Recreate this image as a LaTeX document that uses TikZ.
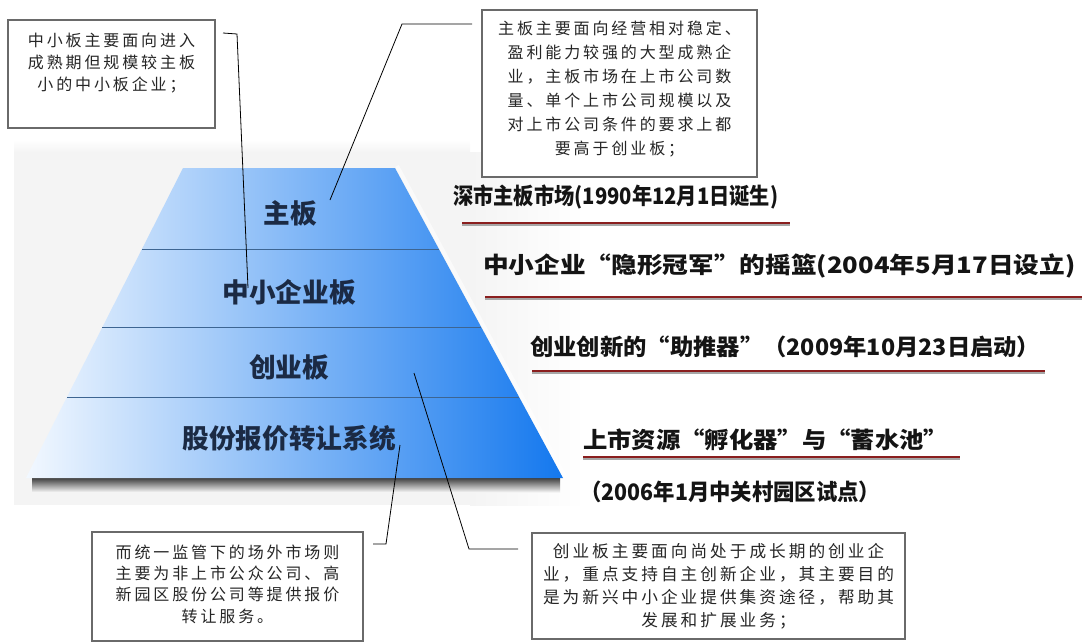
\documentclass[tikz,border=0pt]{standalone}
\usepackage{fontspec}
\usepackage{graphicx}
\setmainfont{Noto Sans CJK SC}
\newfontfamily\boxfont[LetterSpace=18]{Noto Sans CJK SC}
\newcommand\pxu{0.75pt}
\definecolor{bggray}{HTML}{F4F4F4}
\definecolor{pyrlight}{HTML}{F2F8FF}
\definecolor{pyrblue}{HTML}{1478EE}
\definecolor{bandline}{HTML}{3D6592}
\definecolor{navy}{HTML}{1B2A44}
\definecolor{ulred}{HTML}{8A1E1E}
\definecolor{boxedge}{HTML}{6A6A6A}
\tikzset{
  notebox/.style={draw=boxedge, line width=0.8pt, fill=white, inner sep=0pt},
  notetext/.style={font=\boxfont\fontsize{12pt}{17.25pt}\selectfont, align=center, inner sep=0pt, text=black!85},
  tier/.style={font=\bfseries\fontsize{20pt}{24pt}\selectfont, text=navy, inner sep=0pt},
  milestone/.style={font=\bfseries\fontsize{17pt}{20pt}\selectfont, text=black!92, inner sep=0pt, anchor=west},
  leader/.style={draw=black, line width=0.6pt},
  underl/.style={draw=ulred, line width=1.6pt},
  ulshadow/.style={draw=black!35, line width=1.2pt}
}
\begin{document}
\begin{tikzpicture}[x=0.75pt,y=-0.75pt]
\useasboundingbox (0,0) rectangle (1082,643);
% background
\fill[bggray] (14,152) rectangle (470,505);
\shade[left color=bggray, right color=white] (470,152) rectangle (585,505);
\shade[top color=white, bottom color=bggray] (14,140) rectangle (470,152);
% pyramid shadow
\fill[top color=black!80, bottom color=bggray] (32,477) rectangle (560,492);
% pyramid body
\shade[left color=pyrlight, right color=pyrblue] (183,168) -- (395,168) -- (563,478) -- (26,478) -- cycle;
\draw[white, line width=3pt, opacity=0.6] (397,166) -- (566,478);
% band lines
\draw[bandline, line width=0.7pt] (142,249) -- (439,249);
\draw[bandline, line width=0.7pt] (102,327) -- (481,327);
\draw[bandline, line width=0.7pt] (67,397) -- (519,397);
% tier labels
\node[tier] (t1) at (290,213) {主板};
\node[tier] (t2) at (289,292) {中小企业板};
\node[tier] (t3) at (289,367) {创业板};
\node[tier] (t4) at (289,438) {股份报价转让系统};
% milestones
\node[milestone] (m1) at (453,197) {\resizebox{243.75pt}{\height}{深市主板市场(1990年12月1日诞生)}};
\node[milestone] (m2) at (483,266) {\resizebox{444pt}{\height}{中小企业“隐形冠军”的摇篮(2004年5月17日设立)}};
\node[milestone] (m3) at (530,347) {\resizebox{382.5pt}{\height}{创业创新的“助推器”（2009年10月23日启动）}};
\node[milestone] (m4) at (583,440) {\resizebox{273.75pt}{\height}{上市资源“孵化器”与“蓄水池”}};
\node[milestone] (m5) at (580,492) {\resizebox{225pt}{\height}{（2006年1月中关村园区试点）}};
% underlines
\coordinate (u1a) at (462,223); \coordinate (u1b) at (790,223);
\coordinate (u2a) at (485,297); \coordinate (u2b) at (1082,297);
\coordinate (u3a) at (532,371); \coordinate (u3b) at (1045,371);
\coordinate (u4a) at (583,457); \coordinate (u4b) at (960,457);
\foreach \a/\b in {u1a/u1b,u2a/u2b,u3a/u3b,u4a/u4b}{
  \draw[ulshadow] ([yshift=-1.6pt]\a) -- ([yshift=-1.6pt]\b);
  \draw[underl] (\a) -- (\b);
}
% note boxes
\node[notebox, minimum width=207*\pxu, minimum height=108*\pxu] (b1) at (111.5,74) {};
\node[notetext, font=\boxfont\fontsize{12pt}{16.5pt}\selectfont] (b1t) at (111.5,63) {中小板主要面向进入\\成熟期但规模较主板\\小的中小板企业；};
\node[notebox, minimum width=275*\pxu, minimum height=167*\pxu] (b2) at (619.5,93.5) {};
\node[notetext, font=\boxfont\fontsize{12pt}{18pt}\selectfont] (b2t) at (619.5,89) {主板主要面向经营相对稳定、\\盈利能力较强的大型成熟企\\业，主板市场在上市公司数\\量、单个上市公司规模以及\\对上市公司条件的要求上都\\要高于创业板；};
\node[notebox, minimum width=271*\pxu, minimum height=109*\pxu] (b3) at (227.5,586.5) {};
\node[notetext, font=\boxfont\fontsize{12pt}{16pt}\selectfont] (b3t) at (227.5,584) {而统一监管下的场外市场则\\主要为非上市公众公司、高\\新园区股份公司等提供报价\\转让服务。};
\node[notebox, minimum width=373*\pxu, minimum height=106*\pxu] (b4) at (718.5,586) {};
\node[notetext, font=\boxfont\fontsize{12.5pt}{17.25pt}\selectfont] (b4t) at (718.5,586) {创业板主要面向尚处于成长期的创业企\\业，重点支持自主创新企业，其主要目的\\是为新兴中小企业提供集资途径，帮助其\\发展和扩展业务；};
% leaders
\coordinate (l1s) at (223,33); \coordinate (l1k) at (237,34); \coordinate (l1e) at (248,288);
\draw[leader] (l1s) -- (l1k) -- (l1e);
\coordinate (l2s) at (472,24); \coordinate (l2k) at (402,24); \coordinate (l2e) at (330,200);
\draw[leader] (l2s) -- (l2k) -- (l2e);
\coordinate (l3s) at (400,445); \coordinate (l3k) at (386,544); \coordinate (l3e) at (373,544);
\draw[leader] (l3s) -- (l3k) -- (l3e);
\coordinate (l4s) at (414,373); \coordinate (l4k) at (469,549); \coordinate (l4e) at (518,549);
\draw[leader] (l4s) -- (l4k) -- (l4e);
\end{tikzpicture}
\end{document}
